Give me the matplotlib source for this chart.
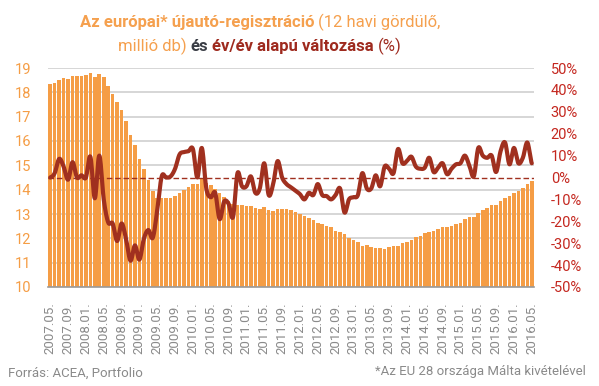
import numpy as np
import matplotlib
matplotlib.use("Agg")
import matplotlib.pyplot as plt

plt.rcParams['font.family'] = ['Roboto', 'DejaVu Sans']

# 12 havi gördülő újautó-regisztráció (millió db), 2007.05 - 2016.05
registrations = [
    18.36, 18.40, 18.52, 18.60, 18.56, 18.68, 18.68, 18.68, 18.73, 18.81, 18.64, 18.77, 18.64,
    18.27, 17.94, 17.61, 17.29, 16.83, 16.26, 15.84, 15.27, 14.86,
    14.40, 13.95, 13.66, 13.66, 13.66, 13.66, 13.75, 13.87, 13.99, 14.12, 14.24, 14.24,
    14.45, 14.28, 14.18, 14.03, 13.86, 13.70, 13.52, 13.40, 13.38,
    13.36, 13.33, 13.33, 13.25, 13.21, 13.29, 13.17, 13.13, 13.21, 13.21, 13.21, 13.17,
    13.09, 13.01, 12.92, 12.84, 12.76, 12.64, 12.59, 12.51, 12.47,
    12.31, 12.26, 12.18, 12.02, 11.94, 11.85, 11.69, 11.73, 11.65, 11.61, 11.61, 11.57,
    11.65, 11.69, 11.69, 11.81, 11.85, 11.94, 12.06, 12.10,
    12.20, 12.28, 12.31, 12.39, 12.47, 12.47, 12.51, 12.59, 12.64, 12.80, 12.88, 12.88,
    13.05, 13.17, 13.25, 13.38, 13.38, 13.54, 13.66, 13.75, 13.87, 13.95, 14.08, 14.24, 14.36,
]

# év/év változás (%)
yoy_change = [
    0, 2, 8.5, 5, -1, 7, 0, 1, 0, 9.5, -9.5, 10, -10,
    -20.5, -21, -29, -21, -28, -38, -31, -37.5, -28, -24, -27.5, -15,
    0.5, 0, 0.5, 4, 10.5, 11.6, 12, 13, 0, 13.5, -5, -9, -7, -19, -11, -12, -18,
    2, -4, -4, 0.5, -7, -5, 6.5, -8, -3, 7.5, 0, -3, -4.5, -6, -7.6, -10, -7, -8, -3, -8, -8.5, -10,
    -8, -5, -16, -10, -9, -8, 2, -5, -5, 1, -4, 5, 4, 2, 13, 6.5, 7.5, 9.5, 5, 4,
    4.5, 9, 2.5, 4.5, 6.5, 1.5, 4, 6, 6.5, 10, 5.5, 0.5, 13.5, 10, 9, 10, 2.5, 12, 16, 6, 13.5,
    6.5, 9, 16, 6.5,
]

tick_labels = [
    "2007.05.", "2007.09.", "2008.01.", "2008.05.", "2008.09.", "2009.01.", "2009.05.",
    "2009.09.", "2010.01.", "2010.05.", "2010.09.", "2011.01.", "2011.05.", "2011.09.",
    "2012.01.", "2012.05.", "2012.09.", "2013.01.", "2013.05.", "2013.09.", "2014.01.",
    "2014.05.", "2014.09.", "2015.01.", "2015.05.", "2015.09.", "2016.01.", "2016.05.",
]

ORANGE = '#F59D45'
LINE_RED = '#A0301F'
LABEL_RED = '#C4271F'
GRAY = '#8a8a8a'


def smooth(xv, yv, n=12):
    # Catmull-Rom curve through the points (like a "smoothed line")
    xv = np.asarray(xv, float)
    p = np.asarray(yv, float)
    pp = np.concatenate([[p[0]], p, [p[-1]]])
    t = np.linspace(0, 1, n, endpoint=False)
    ox, oy = [], []
    for k in range(len(p) - 1):
        p0, p1, p2, p3 = pp[k:k + 4]
        y = 0.5 * (2 * p1 + (-p0 + p2) * t + (2 * p0 - 5 * p1 + 4 * p2 - p3) * t ** 2
                   + (-p0 + 3 * p1 - 3 * p2 + p3) * t ** 3)
        ox.extend(xv[k] + t * (xv[k + 1] - xv[k]))
        oy.extend(y)
    ox.append(xv[-1])
    oy.append(p[-1])
    return np.array(ox), np.array(oy)


def rich_line(fig, y, parts, xc, size, gap=4.0):
    texts = []
    for s, color, weight in parts:
        texts.append(fig.text(0, y, s, color=color, fontweight=weight,
                              fontsize=size, va='center', ha='left'))
    fig.canvas.draw()
    r = fig.canvas.get_renderer()
    W = fig.bbox.width
    widths = [t.get_window_extent(r).width for t in texts]
    total = sum(widths) + gap * (len(widths) - 1)
    x0 = xc * W - total / 2
    for t, w in zip(texts, widths):
        t.set_x(x0 / W)
        x0 += w + gap


fig = plt.figure(figsize=(5.99, 3.86), dpi=100)
W, H = 599, 386
ax = fig.add_axes([48 / W, 1 - 287 / H, (534 - 48) / W, (287 - 68) / H])

x = np.arange(len(registrations))
ax.bar(x, registrations, width=0.8, color=ORANGE, zorder=2)
ax.set_xlim(-0.5, len(registrations) - 0.5)
ax.set_ylim(10, 19)
ax.set_yticks(range(10, 20))
ax.grid(axis='y', color='#cccccc', lw=1.1, zorder=0)
ax.set_axisbelow(True)
for s in ['top', 'right', 'left']:
    ax.spines[s].set_visible(False)
ax.spines['bottom'].set_color('#9a9a9a')
ax.spines['bottom'].set_linewidth(1.2)
ax.spines['bottom'].set_zorder(3)
ax.set_xticks(x[::4])
ax.set_xticklabels(tick_labels, rotation=90, color=GRAY, fontsize=9.5)
ax.tick_params(axis='x', length=0, pad=11)
ax.tick_params(axis='y', length=0, pad=12, labelcolor=ORANGE, labelsize=10.5)

ax2 = ax.twinx()
ax2.set_ylim(-50, 50)
ax2.set_yticks(range(-50, 51, 10))
ax2.set_yticklabels([f"{v}%" for v in range(-50, 51, 10)])
ax2.tick_params(axis='y', length=0, pad=12, labelcolor=LABEL_RED, labelsize=10.5)
for s in ax2.spines.values():
    s.set_visible(False)
ax2.axhline(0, color=LINE_RED, ls=(0, (4, 2)), lw=1)
sx, sy = smooth(x, yoy_change)
ax2.plot(sx, sy, color=LINE_RED, lw=3.0, solid_joinstyle='round', solid_capstyle='round')

title_orange = '#F5A04E'
rich_line(fig, 1 - 22.7 / H, [
    ("Az európai* újautó-regisztráció", title_orange, 'bold'),
    ("(12 havi gördülő,", title_orange, 'normal'),
], 260 / W, 12)
rich_line(fig, 1 - 46.7 / H, [
    ("millió db)", title_orange, 'normal'),
    ("és", '#3a3d45', 'bold'),
    ("év/év alapú változása", '#9E2A1E', 'bold'),
    ("(%)", '#9E2A1E', 'normal'),
], 260 / W, 12)

fig.text(8 / W, 1 - 373 / H, "Forrás: ACEA, Portfolio", color=GRAY, fontsize=9.5,
         va='center', ha='left')
fig.text(586 / W, 1 - 372 / H, "*Az EU 28 országa Málta kivételével", color=GRAY,
         fontsize=9.5, va='center', ha='right')

fig.savefig("out.png", dpi=100)
